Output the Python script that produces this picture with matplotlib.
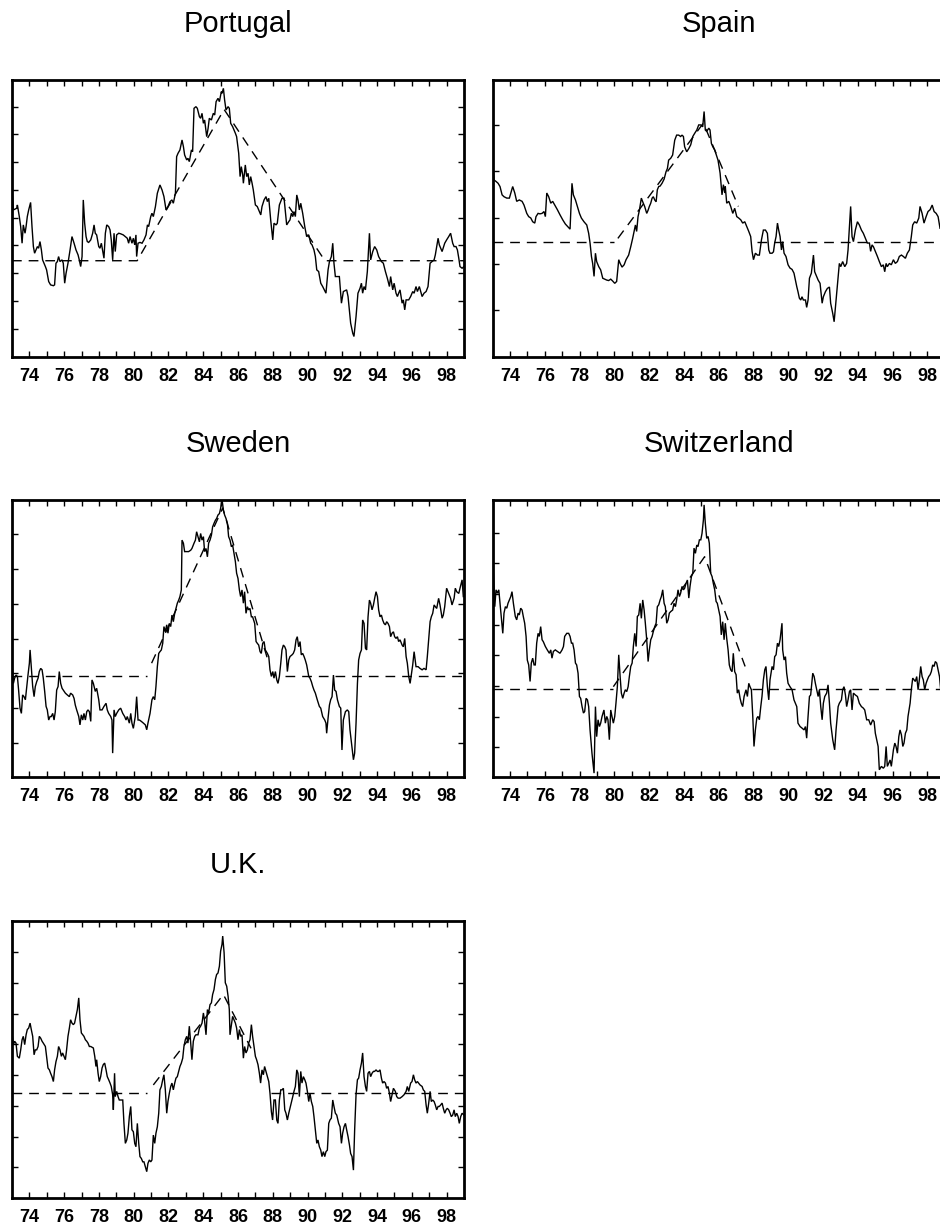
import matplotlib
matplotlib.use("Agg")
import matplotlib.pyplot as plt

plt.rcParams['font.family'] = ['Liberation Sans', 'DejaVu Sans']

# ---------------- data (decimal year, value in tick units) ----------------
portugal = [(1973.00,6.06),(1973.08,5.28),(1973.27,5.34),(1973.31,5.46),(1973.42,5.04),(1973.50,4.68),(1973.58,4.08),(1973.65,4.74),(1973.75,4.44),(1973.81,4.68),(1973.88,5.04),(1973.96,5.28),(1974.07,5.55),(1974.15,4.68),(1974.23,3.96),(1974.30,3.72),(1974.38,3.84),(1974.46,3.96),(1974.53,3.90),(1974.61,4.14),(1974.69,3.84),(1974.76,3.48),(1974.84,3.36),(1974.92,3.24),(1974.99,3.12),(1975.11,2.70),(1975.22,2.58),(1975.38,2.55),(1975.45,2.58),(1975.53,3.36),(1975.61,3.42),(1975.68,3.60),(1975.76,3.42),(1975.88,3.48),(1975.95,3.36),(1976.03,2.64),(1976.11,3.00),(1976.22,3.36),(1976.34,3.84),(1976.45,4.32),(1976.57,4.08),(1976.68,3.84),(1976.80,3.66),(1976.87,3.48),(1976.95,3.24),(1977.03,3.60),(1977.10,5.64),(1977.18,4.80),(1977.26,4.32),(1977.33,4.14),(1977.41,4.11),(1977.53,4.20),(1977.64,4.44),(1977.72,4.74),(1977.79,4.44),(1977.87,4.38),(1977.99,3.96),(1978.06,3.90),(1978.14,4.08),(1978.22,3.78),(1978.29,3.54),(1978.37,4.44),(1978.45,4.74),(1978.56,4.68),(1978.64,4.56),(1978.71,4.20),(1978.79,3.48),(1978.87,4.44),(1978.94,3.78),(1979.02,4.38),(1979.14,4.44),(1979.25,4.42),(1979.40,4.38),(1979.52,4.32),(1979.63,4.26),(1979.71,4.08),(1979.79,4.32),(1979.90,4.08),(1979.98,4.26),(1980.06,4.02),(1980.13,4.38),(1980.17,3.60),(1980.25,4.08),(1980.36,4.11),(1980.48,4.08),(1980.59,4.20),(1980.71,4.38),(1980.79,4.74),(1980.86,4.68),(1980.98,5.04),(1981.05,5.16),(1981.13,5.04),(1981.25,5.40),(1981.36,5.88),(1981.51,6.18),(1981.63,6.00),(1981.74,5.76),(1981.86,5.28),(1981.97,5.40),(1982.09,5.58),(1982.20,5.64),(1982.28,5.52),(1982.40,5.88),(1982.47,7.20),(1982.55,7.32),(1982.66,7.44),(1982.78,7.80),(1982.86,7.56),(1982.93,7.26),(1983.05,7.08),(1983.12,7.14),(1983.20,7.02),(1983.32,7.44),(1983.39,7.38),(1983.47,8.94),(1983.58,9.00),(1983.66,8.94),(1983.78,8.64),(1983.85,8.58),(1983.93,8.76),(1984.01,8.40),(1984.08,8.52),(1984.20,7.92),(1984.28,8.22),(1984.35,8.58),(1984.47,8.52),(1984.58,8.76),(1984.66,8.70),(1984.74,9.18),(1984.85,9.30),(1984.93,9.18),(1985.04,9.54),(1985.08,9.48),(1985.16,9.66),(1985.23,9.24),(1985.31,8.88),(1985.43,9.00),(1985.50,8.94),(1985.58,8.40),(1985.69,8.28),(1985.77,8.16),(1985.85,8.04),(1985.92,7.92),(1986.04,7.32),(1986.12,6.48),(1986.19,6.84),(1986.27,6.54),(1986.31,6.24),(1986.42,6.90),(1986.50,6.48),(1986.58,6.60),(1986.65,6.18),(1986.73,6.48),(1986.81,6.24),(1986.88,6.00),(1987.00,5.46),(1987.11,5.40),(1987.23,5.22),(1987.31,5.10),(1987.38,5.40),(1987.50,5.64),(1987.61,5.76),(1987.69,5.58),(1987.77,5.70),(1987.88,4.92),(1988.00,4.20),(1988.07,4.80),(1988.19,4.74),(1988.26,4.80),(1988.38,5.46),(1988.53,5.70),(1988.65,5.70),(1988.80,4.74),(1988.92,4.86),(1988.99,4.92),(1989.07,5.16),(1989.15,5.04),(1989.22,5.22),(1989.30,5.04),(1989.38,5.82),(1989.45,5.64),(1989.53,5.28),(1989.61,5.52),(1989.72,5.16),(1989.84,4.68),(1989.95,4.32),(1990.07,4.38),(1990.18,4.08),(1990.26,4.02),(1990.37,3.84),(1990.45,3.60),(1990.53,3.12),(1990.64,3.06),(1990.76,2.64),(1990.87,2.52),(1991.06,2.28),(1991.18,3.12),(1991.26,3.42),(1991.37,3.60),(1991.45,4.08),(1991.52,3.36),(1991.60,2.88),(1991.72,2.88),(1991.83,2.88),(1991.95,1.92),(1992.06,2.34),(1992.25,2.40),(1992.33,2.16),(1992.48,1.20),(1992.60,0.84),(1992.67,0.72),(1992.79,1.44),(1992.90,2.28),(1993.02,2.46),(1993.10,2.64),(1993.17,2.28),(1993.25,2.52),(1993.33,2.40),(1993.44,3.06),(1993.56,4.44),(1993.63,3.48),(1993.75,3.78),(1993.86,3.96),(1993.98,3.84),(1994.09,3.60),(1994.25,3.42),(1994.36,3.36),(1994.48,3.06),(1994.59,2.82),(1994.71,2.52),(1994.78,2.88),(1994.90,2.40),(1994.98,2.64),(1995.09,2.28),(1995.17,2.16),(1995.24,2.28),(1995.32,2.40),(1995.44,1.92),(1995.51,2.04),(1995.59,1.68),(1995.67,2.04),(1995.82,2.04),(1995.93,2.16),(1996.05,2.34),(1996.13,2.28),(1996.24,2.52),(1996.32,2.34),(1996.43,2.52),(1996.59,2.16),(1996.70,2.28),(1996.82,2.34),(1996.93,2.52),(1997.05,3.36),(1997.16,3.42),(1997.28,3.48),(1997.35,3.66),(1997.51,4.26),(1997.58,4.02),(1997.74,3.78),(1997.89,4.08),(1998.00,4.20),(1998.12,4.32),(1998.23,4.44),(1998.35,4.08),(1998.43,3.96),(1998.54,3.96),(1998.62,3.84),(1998.70,3.54),(1998.77,3.24),(1998.89,3.18),(1999.00,3.24)]

spain = [(1973.00,4.17),(1973.08,3.81),(1973.19,3.78),(1973.31,3.74),(1973.42,3.67),(1973.54,3.49),(1973.65,3.45),(1973.81,3.42),(1973.96,3.42),(1974.07,3.56),(1974.15,3.67),(1974.27,3.53),(1974.38,3.35),(1974.53,3.38),(1974.69,3.35),(1974.80,3.27),(1974.96,3.09),(1975.07,3.02),(1975.19,2.99),(1975.30,2.91),(1975.42,2.88),(1975.49,3.02),(1975.61,3.09),(1975.72,3.08),(1975.84,3.09),(1975.95,3.13),(1976.03,3.02),(1976.11,3.53),(1976.22,3.45),(1976.34,3.31),(1976.45,3.35),(1976.57,3.27),(1976.72,3.17),(1976.87,3.06),(1977.03,2.95),(1977.18,2.86),(1977.30,2.81),(1977.45,2.75),(1977.56,3.74),(1977.64,3.49),(1977.76,3.38),(1977.87,3.24),(1977.99,3.09),(1978.10,2.99),(1978.25,2.91),(1978.41,2.84),(1978.52,2.66),(1978.60,2.45),(1978.68,2.16),(1978.75,2.01),(1978.83,1.73),(1978.91,2.23),(1978.98,2.05),(1979.10,1.94),(1979.21,1.87),(1979.33,1.69),(1979.44,1.67),(1979.56,1.65),(1979.67,1.64),(1979.79,1.67),(1979.90,1.63),(1980.02,1.58),(1980.13,1.62),(1980.25,2.09),(1980.33,2.01),(1980.44,1.93),(1980.56,1.98),(1980.67,2.09),(1980.82,2.19),(1980.94,2.37),(1981.05,2.55),(1981.13,2.70),(1981.21,2.84),(1981.28,2.70),(1981.36,3.02),(1981.44,3.16),(1981.55,3.42),(1981.63,3.34),(1981.74,3.24),(1981.86,3.09),(1981.94,3.16),(1982.01,3.24),(1982.09,3.31),(1982.17,3.42),(1982.24,3.45),(1982.32,3.38),(1982.40,3.34),(1982.47,3.60),(1982.55,3.67),(1982.63,3.68),(1982.74,3.74),(1982.86,3.83),(1982.97,3.99),(1983.05,4.06),(1983.12,4.24),(1983.24,4.28),(1983.35,4.35),(1983.47,4.67),(1983.58,4.78),(1983.70,4.78),(1983.81,4.75),(1983.89,4.78),(1983.97,4.75),(1984.04,4.53),(1984.16,4.42),(1984.28,4.49),(1984.39,4.57),(1984.51,4.75),(1984.62,4.82),(1984.74,4.89),(1984.85,5.00),(1984.97,5.00),(1985.08,4.96),(1985.16,5.29),(1985.23,4.89),(1985.31,4.86),(1985.43,4.93),(1985.50,4.89),(1985.58,4.60),(1985.66,4.53),(1985.77,4.46),(1985.89,4.32),(1985.96,4.24),(1986.08,3.96),(1986.19,3.49),(1986.27,3.71),(1986.35,3.53),(1986.38,3.67),(1986.46,3.31),(1986.58,3.35),(1986.69,3.24),(1986.81,3.09),(1986.92,3.20),(1987.04,3.02),(1987.15,2.99),(1987.27,2.95),(1987.38,2.88),(1987.50,2.91),(1987.61,2.81),(1987.73,2.70),(1987.84,2.59),(1987.92,2.27),(1988.00,2.09),(1988.11,2.23),(1988.23,2.19),(1988.34,2.19),(1988.46,2.52),(1988.57,2.73),(1988.69,2.73),(1988.80,2.66),(1988.88,2.30),(1988.95,2.23),(1989.07,2.23),(1989.15,2.26),(1989.22,2.45),(1989.30,2.59),(1989.38,2.88),(1989.45,2.73),(1989.53,2.59),(1989.61,2.30),(1989.68,2.48),(1989.76,2.23),(1989.87,2.16),(1989.99,1.98),(1990.10,1.91),(1990.22,1.88),(1990.33,1.80),(1990.41,1.65),(1990.49,1.51),(1990.56,1.40),(1990.64,1.26),(1990.72,1.22),(1990.79,1.29),(1990.87,1.22),(1990.99,1.22),(1991.06,1.06),(1991.14,1.22),(1991.22,1.69),(1991.33,1.80),(1991.45,2.19),(1991.52,1.83),(1991.60,1.76),(1991.72,1.65),(1991.83,1.58),(1991.95,1.15),(1992.02,1.29),(1992.14,1.40),(1992.25,1.47),(1992.37,1.50),(1992.44,1.15),(1992.56,0.93),(1992.64,0.75),(1992.75,1.22),(1992.87,1.73),(1992.94,2.01),(1993.02,1.94),(1993.13,2.05),(1993.25,1.94),(1993.36,2.01),(1993.44,2.30),(1993.52,2.81),(1993.59,3.24),(1993.67,2.59),(1993.75,2.48),(1993.86,2.73),(1993.98,2.91),(1994.09,2.84),(1994.21,2.73),(1994.32,2.66),(1994.44,2.55),(1994.55,2.45),(1994.67,2.45),(1994.74,2.27),(1994.82,2.41),(1994.90,2.37),(1995.01,2.27),(1995.13,2.16),(1995.24,2.05),(1995.36,1.94),(1995.47,1.98),(1995.55,1.83),(1995.63,2.01),(1995.70,1.94),(1995.82,2.01),(1995.93,1.98),(1996.05,2.09),(1996.16,2.01),(1996.28,2.05),(1996.39,2.16),(1996.51,2.19),(1996.62,2.16),(1996.74,2.12),(1996.85,2.23),(1996.97,2.30),(1997.08,2.59),(1997.16,2.84),(1997.27,2.91),(1997.39,2.88),(1997.51,2.99),(1997.58,3.24),(1997.70,3.09),(1997.81,2.88),(1997.93,3.02),(1998.04,3.13),(1998.16,3.17),(1998.28,3.27),(1998.39,3.13),(1998.51,3.09),(1998.62,3.02),(1998.73,2.77)]

sweden = [(1973.00,3.25),(1973.08,2.67),(1973.15,2.82),(1973.23,2.91),(1973.31,2.87),(1973.38,2.48),(1973.46,1.96),(1973.54,1.81),(1973.61,2.34),(1973.69,2.29),(1973.77,2.20),(1973.84,2.53),(1973.92,2.91),(1974.00,3.25),(1974.04,3.63),(1974.11,3.15),(1974.19,2.58),(1974.27,2.29),(1974.34,2.58),(1974.42,2.72),(1974.50,2.82),(1974.57,3.01),(1974.65,3.10),(1974.73,3.06),(1974.80,2.82),(1974.88,2.44),(1974.96,2.01),(1975.03,1.91),(1975.11,1.62),(1975.19,1.72),(1975.26,1.72),(1975.34,1.81),(1975.42,1.62),(1975.49,1.86),(1975.57,2.48),(1975.65,2.58),(1975.72,3.01),(1975.80,2.67),(1975.88,2.53),(1975.95,2.48),(1976.07,2.39),(1976.18,2.34),(1976.30,2.29),(1976.37,2.39),(1976.49,2.34),(1976.57,2.24),(1976.64,2.05),(1976.72,1.91),(1976.84,1.72),(1976.91,1.48),(1976.99,1.77),(1977.07,1.62),(1977.14,1.81),(1977.22,1.62),(1977.30,1.86),(1977.37,1.91),(1977.45,1.86),(1977.53,1.58),(1977.60,2.77),(1977.68,2.67),(1977.79,2.44),(1977.87,2.53),(1977.99,2.20),(1978.06,1.91),(1978.18,1.91),(1978.29,2.01),(1978.41,2.10),(1978.48,1.91),(1978.56,1.81),(1978.68,1.72),(1978.75,1.62),(1978.79,0.67),(1978.87,1.91),(1978.94,1.72),(1979.02,1.81),(1979.14,1.91),(1979.25,1.96),(1979.37,1.81),(1979.48,1.72),(1979.56,1.62),(1979.63,1.72),(1979.75,1.53),(1979.83,1.81),(1979.90,1.53),(1979.98,1.38),(1980.09,1.72),(1980.17,2.29),(1980.25,1.62),(1980.33,1.62),(1980.44,1.58),(1980.56,1.53),(1980.67,1.48),(1980.75,1.34),(1980.82,1.53),(1980.94,1.81),(1981.05,2.20),(1981.13,2.29),(1981.21,2.20),(1981.28,2.58),(1981.36,3.15),(1981.44,3.53),(1981.51,3.58),(1981.59,3.63),(1981.67,3.82),(1981.74,4.30),(1981.82,4.15),(1981.90,4.35),(1981.97,4.11),(1982.05,4.39),(1982.13,4.30),(1982.20,4.63),(1982.28,4.44),(1982.36,4.68),(1982.43,4.82),(1982.51,4.97),(1982.59,5.06),(1982.66,5.16),(1982.74,5.35),(1982.78,6.78),(1982.86,6.69),(1982.93,6.45),(1983.05,6.45),(1983.16,6.45),(1983.28,6.49),(1983.35,6.54),(1983.47,6.69),(1983.55,6.78),(1983.62,7.02),(1983.70,6.88),(1983.78,6.73),(1983.85,6.97),(1983.93,6.78),(1984.01,6.88),(1984.08,6.45),(1984.16,6.54),(1984.24,6.30),(1984.31,6.69),(1984.39,6.78),(1984.47,6.92),(1984.54,7.16),(1984.62,7.26),(1984.70,7.35),(1984.77,7.40),(1984.85,7.50),(1984.93,7.54),(1985.00,7.69),(1985.08,7.95),(1985.16,7.64),(1985.23,7.50),(1985.31,7.40),(1985.39,7.26),(1985.46,6.88),(1985.54,6.78),(1985.62,6.59),(1985.69,6.64),(1985.77,6.40),(1985.85,6.16),(1985.92,5.83),(1986.00,5.68),(1986.08,5.35),(1986.15,5.16),(1986.23,5.35),(1986.31,4.97),(1986.38,5.30),(1986.46,4.68),(1986.54,4.87),(1986.61,4.78),(1986.69,4.82),(1986.77,4.58),(1986.84,4.58),(1986.96,4.39),(1987.04,3.87),(1987.11,3.82),(1987.19,3.77),(1987.27,3.58),(1987.34,3.53),(1987.42,3.82),(1987.50,3.87),(1987.57,3.63),(1987.69,3.53),(1987.77,3.44),(1987.84,3.06),(1987.92,2.87),(1988.00,3.01),(1988.07,2.82),(1988.15,3.01),(1988.23,2.77),(1988.30,2.67),(1988.38,2.87),(1988.46,3.25),(1988.53,3.63),(1988.61,3.77),(1988.69,3.72),(1988.76,3.63),(1988.84,3.01),(1988.92,3.34),(1988.99,3.44),(1989.11,3.49),(1989.18,3.53),(1989.26,3.63),(1989.34,3.92),(1989.41,4.01),(1989.49,3.72),(1989.57,3.87),(1989.64,3.49),(1989.72,3.53),(1989.80,3.44),(1989.87,3.34),(1989.95,3.20),(1990.07,2.87),(1990.14,2.82),(1990.22,2.72),(1990.30,2.58),(1990.37,2.48),(1990.45,2.39),(1990.56,2.20),(1990.68,2.01),(1990.76,1.96),(1990.87,1.72),(1990.99,1.62),(1991.06,1.53),(1991.10,1.24),(1991.18,1.67),(1991.26,2.05),(1991.33,2.20),(1991.41,2.29),(1991.49,2.91),(1991.56,2.48),(1991.64,2.44),(1991.72,2.20),(1991.83,2.01),(1991.91,1.96),(1991.98,0.76),(1992.06,1.62),(1992.18,1.86),(1992.29,1.91),(1992.37,1.86),(1992.44,1.34),(1992.56,0.81),(1992.64,0.48),(1992.71,0.67),(1992.79,1.53),(1992.87,2.67),(1992.94,3.34),(1993.02,3.53),(1993.10,3.63),(1993.17,4.49),(1993.25,4.39),(1993.33,3.68),(1993.40,3.63),(1993.48,4.58),(1993.56,5.06),(1993.63,4.97),(1993.71,4.78),(1993.79,4.92),(1993.86,5.11),(1993.94,5.30),(1994.02,5.16),(1994.09,4.78),(1994.17,4.58),(1994.25,4.63),(1994.32,4.49),(1994.40,4.39),(1994.48,4.35),(1994.55,4.44),(1994.63,4.39),(1994.71,4.30),(1994.78,4.01),(1994.86,4.11),(1994.94,4.15),(1995.01,4.01),(1995.09,3.96),(1995.17,4.01),(1995.24,3.87),(1995.32,3.92),(1995.44,3.77),(1995.51,3.72),(1995.59,3.96),(1995.67,3.44),(1995.74,3.25),(1995.82,2.87),(1995.90,2.67),(1995.97,2.91),(1996.05,3.20),(1996.13,3.58),(1996.24,3.15),(1996.36,3.15),(1996.47,3.10),(1996.59,3.06),(1996.70,3.10),(1996.82,3.06),(1996.89,3.44),(1996.97,3.96),(1997.05,4.44),(1997.12,4.58),(1997.20,4.68),(1997.28,4.92),(1997.35,4.87),(1997.43,4.82),(1997.54,5.11),(1997.62,4.92),(1997.74,4.54),(1997.81,4.63),(1997.89,4.87),(1998.00,5.40),(1998.12,5.25),(1998.23,5.11),(1998.31,4.92),(1998.43,5.11),(1998.50,5.40),(1998.58,5.30),(1998.70,5.25),(1998.77,5.40),(1998.89,5.64),(1998.96,5.16)]

switzerland = [(1973.00,7.17),(1973.12,5.54),(1973.19,6.09),(1973.27,5.98),(1973.35,6.09),(1973.42,5.65),(1973.50,5.11),(1973.58,4.67),(1973.65,5.33),(1973.73,5.54),(1973.81,5.49),(1973.88,5.65),(1973.96,5.76),(1974.04,5.87),(1974.11,6.03),(1974.19,5.65),(1974.30,5.22),(1974.38,5.11),(1974.46,5.33),(1974.53,5.27),(1974.61,5.49),(1974.69,5.43),(1974.76,5.22),(1974.84,5.00),(1974.92,4.57),(1974.99,3.80),(1975.07,3.64),(1975.15,3.10),(1975.22,3.70),(1975.30,3.86),(1975.38,3.64),(1975.45,3.64),(1975.53,4.35),(1975.61,4.67),(1975.68,4.57),(1975.76,4.89),(1975.84,4.46),(1975.91,4.40),(1976.03,4.24),(1976.14,4.13),(1976.26,4.02),(1976.34,4.13),(1976.41,3.86),(1976.49,4.08),(1976.60,4.13),(1976.72,4.08),(1976.87,4.02),(1976.99,4.13),(1977.07,4.24),(1977.14,4.57),(1977.26,4.67),(1977.37,4.67),(1977.45,4.57),(1977.53,4.35),(1977.60,4.35),(1977.68,4.13),(1977.76,3.70),(1977.83,3.64),(1977.91,3.37),(1977.99,2.61),(1978.06,2.55),(1978.14,2.28),(1978.22,2.07),(1978.29,2.12),(1978.37,2.55),(1978.45,2.50),(1978.52,2.28),(1978.60,1.52),(1978.71,0.76),(1978.83,0.11),(1978.91,2.28),(1978.98,1.30),(1979.06,1.85),(1979.14,1.63),(1979.21,1.74),(1979.29,1.96),(1979.40,2.17),(1979.48,1.74),(1979.56,1.96),(1979.63,1.85),(1979.71,1.20),(1979.79,2.17),(1979.86,1.96),(1979.94,1.74),(1980.02,1.96),(1980.09,2.39),(1980.17,2.93),(1980.25,3.97),(1980.33,3.26),(1980.40,2.72),(1980.48,2.55),(1980.56,2.72),(1980.63,2.83),(1980.71,2.77),(1980.79,2.93),(1980.86,3.26),(1980.94,3.59),(1981.02,3.70),(1981.09,4.24),(1981.17,4.67),(1981.25,4.24),(1981.32,5.22),(1981.40,5.27),(1981.48,5.65),(1981.55,5.16),(1981.63,5.76),(1981.71,5.43),(1981.78,5.00),(1981.86,4.46),(1981.94,3.75),(1982.01,4.13),(1982.09,4.46),(1982.17,4.57),(1982.24,4.73),(1982.32,4.89),(1982.40,5.00),(1982.47,5.54),(1982.55,5.60),(1982.63,5.76),(1982.70,5.87),(1982.78,6.09),(1982.86,5.65),(1982.93,5.54),(1983.01,5.00),(1983.09,5.11),(1983.16,5.33),(1983.24,5.38),(1983.35,5.43),(1983.43,5.65),(1983.51,5.54),(1983.58,5.76),(1983.66,6.09),(1983.74,5.87),(1983.81,5.98),(1983.89,6.20),(1983.97,6.09),(1984.04,6.14),(1984.12,6.30),(1984.20,6.41),(1984.28,5.82),(1984.35,6.20),(1984.43,6.52),(1984.51,6.63),(1984.58,7.45),(1984.66,7.28),(1984.74,7.55),(1984.81,7.50),(1984.89,7.72),(1984.97,7.72),(1985.04,7.93),(1985.12,8.37),(1985.16,8.86),(1985.23,8.26),(1985.31,7.77),(1985.39,7.83),(1985.46,7.61),(1985.54,6.63),(1985.62,6.52),(1985.69,6.30),(1985.77,6.09),(1985.85,5.71),(1985.92,5.65),(1986.00,5.43),(1986.08,5.22),(1986.15,4.62),(1986.23,5.05),(1986.31,4.46),(1986.38,5.00),(1986.46,4.51),(1986.54,4.13),(1986.61,3.64),(1986.69,3.48),(1986.77,3.42),(1986.84,4.02),(1986.92,3.42),(1987.00,3.32),(1987.07,2.72),(1987.15,2.83),(1987.23,2.55),(1987.30,2.39),(1987.38,2.28),(1987.46,2.61),(1987.57,2.83),(1987.65,2.61),(1987.73,3.04),(1987.80,2.93),(1987.88,2.83),(1987.96,1.96),(1988.03,0.98),(1988.11,1.52),(1988.19,1.90),(1988.26,1.96),(1988.34,1.85),(1988.42,2.28),(1988.49,2.61),(1988.57,3.15),(1988.65,3.48),(1988.72,3.59),(1988.80,2.93),(1988.88,2.50),(1988.95,3.15),(1989.07,3.59),(1989.15,3.48),(1989.22,3.91),(1989.30,3.97),(1989.38,4.35),(1989.45,4.24),(1989.53,4.46),(1989.64,5.00),(1989.68,4.13),(1989.76,3.80),(1989.84,3.91),(1989.91,3.37),(1989.99,3.04),(1990.10,2.93),(1990.22,2.83),(1990.33,2.50),(1990.41,2.39),(1990.49,2.28),(1990.56,1.74),(1990.68,1.63),(1990.79,1.58),(1990.91,1.52),(1990.99,1.63),(1991.06,1.25),(1991.14,1.96),(1991.22,2.61),(1991.29,2.66),(1991.41,3.37),(1991.49,3.26),(1991.56,3.04),(1991.64,2.83),(1991.72,2.61),(1991.79,2.83),(1991.87,2.28),(1991.95,1.85),(1992.02,2.39),(1992.10,2.61),(1992.21,2.72),(1992.29,2.99),(1992.37,2.39),(1992.44,1.74),(1992.56,1.20),(1992.67,0.87),(1992.75,1.52),(1992.87,2.28),(1992.94,2.39),(1993.06,2.50),(1993.13,2.83),(1993.21,2.93),(1993.29,2.66),(1993.36,2.28),(1993.44,2.50),(1993.52,2.77),(1993.59,2.83),(1993.67,2.17),(1993.75,2.72),(1993.86,2.66),(1993.98,2.61),(1994.09,2.39),(1994.21,2.28),(1994.32,2.23),(1994.40,2.17),(1994.51,1.85),(1994.63,1.85),(1994.74,1.68),(1994.86,1.85),(1994.94,1.79),(1995.01,1.41),(1995.09,1.20),(1995.17,0.98),(1995.24,0.22),(1995.36,0.33),(1995.47,0.27),(1995.55,0.33),(1995.63,0.98),(1995.70,0.33),(1995.78,0.43),(1995.86,0.54),(1995.93,0.33),(1996.05,0.87),(1996.13,1.09),(1996.20,0.98),(1996.28,0.76),(1996.36,1.30),(1996.43,1.52),(1996.51,1.36),(1996.59,0.98),(1996.66,1.09),(1996.74,1.41),(1996.82,1.52),(1996.89,1.96),(1997.01,2.39),(1997.08,2.83),(1997.16,3.21),(1997.24,3.15),(1997.31,3.10),(1997.39,3.26),(1997.47,2.83),(1997.54,3.15),(1997.62,3.59),(1997.70,3.26),(1997.77,3.15),(1997.85,2.83),(1997.93,3.04),(1998.00,3.15),(1998.08,3.26),(1998.16,3.32),(1998.23,3.42),(1998.31,3.64),(1998.39,3.59),(1998.46,3.75),(1998.54,3.70),(1998.62,3.48),(1998.70,3.26),(1998.77,2.83)]

uk = [(1973.00,5.35),(1973.08,4.97),(1973.15,5.08),(1973.23,5.02),(1973.31,4.59),(1973.42,4.53),(1973.50,4.80),(1973.58,5.13),(1973.65,5.24),(1973.73,4.97),(1973.81,5.29),(1973.88,5.46),(1973.96,5.51),(1974.04,5.67),(1974.11,5.46),(1974.19,5.24),(1974.27,4.64),(1974.34,4.80),(1974.42,4.80),(1974.50,4.91),(1974.57,5.24),(1974.65,5.18),(1974.73,5.08),(1974.80,5.02),(1974.92,4.91),(1974.99,4.59),(1975.07,4.21),(1975.15,4.15),(1975.22,4.04),(1975.30,3.93),(1975.38,3.77),(1975.45,4.15),(1975.53,4.42),(1975.61,4.59),(1975.68,4.91),(1975.76,4.80),(1975.84,4.59),(1975.91,4.70),(1975.99,4.59),(1976.07,4.48),(1976.14,4.80),(1976.22,5.24),(1976.30,5.51),(1976.37,5.78),(1976.45,5.67),(1976.53,5.62),(1976.60,5.67),(1976.68,5.89),(1976.76,6.11),(1976.84,6.49),(1976.91,5.78),(1976.99,5.35),(1977.07,5.29),(1977.14,5.24),(1977.22,5.13),(1977.30,5.08),(1977.37,5.02),(1977.45,4.91),(1977.53,4.91),(1977.68,4.86),(1977.76,4.59),(1977.83,4.26),(1977.87,4.48),(1977.95,4.04),(1978.02,3.77),(1978.10,3.93),(1978.18,4.21),(1978.25,4.32),(1978.33,4.37),(1978.41,4.15),(1978.48,3.93),(1978.56,3.83),(1978.64,3.72),(1978.71,3.61),(1978.79,3.34),(1978.83,2.85),(1978.90,4.04),(1978.94,3.28),(1979.02,3.45),(1979.10,3.28),(1979.17,3.17),(1979.25,3.17),(1979.37,3.17),(1979.44,2.41),(1979.52,1.76),(1979.60,1.87),(1979.67,2.09),(1979.75,2.63),(1979.83,2.96),(1979.90,2.20),(1979.98,2.14),(1980.06,1.76),(1980.13,1.65),(1980.21,2.41),(1980.29,1.76),(1980.36,1.33),(1980.44,1.27),(1980.52,1.16),(1980.59,1.16),(1980.67,1.00),(1980.75,0.84),(1980.82,1.11),(1980.90,1.22),(1980.98,1.16),(1981.05,1.22),(1981.13,2.03),(1981.21,1.76),(1981.28,2.09),(1981.36,2.30),(1981.44,2.74),(1981.51,3.50),(1981.59,3.61),(1981.67,3.83),(1981.74,3.99),(1981.82,3.50),(1981.90,2.74),(1981.97,3.12),(1982.05,3.39),(1982.13,3.61),(1982.20,3.72),(1982.28,3.50),(1982.36,3.72),(1982.43,3.88),(1982.51,3.93),(1982.59,4.10),(1982.66,4.26),(1982.74,4.37),(1982.82,4.53),(1982.89,4.91),(1982.97,5.13),(1983.05,5.24),(1983.12,5.02),(1983.20,5.57),(1983.28,5.02),(1983.35,4.48),(1983.43,5.08),(1983.51,5.24),(1983.58,5.29),(1983.70,5.29),(1983.78,5.51),(1983.85,5.57),(1983.93,5.67),(1984.01,6.00),(1984.08,5.73),(1984.16,5.29),(1984.24,6.11),(1984.31,6.00),(1984.39,6.27),(1984.47,6.33),(1984.54,6.60),(1984.62,6.76),(1984.70,7.09),(1984.77,7.25),(1984.85,7.30),(1984.93,7.52),(1985.00,8.01),(1985.08,8.23),(1985.12,8.50),(1985.20,7.96),(1985.27,6.98),(1985.35,6.87),(1985.43,6.54),(1985.50,6.11),(1985.54,5.29),(1985.62,5.62),(1985.69,5.89),(1985.77,5.78),(1985.85,5.67),(1985.92,5.51),(1986.00,5.13),(1986.08,5.46),(1986.15,5.24),(1986.23,5.29),(1986.31,4.53),(1986.38,4.91),(1986.46,4.70),(1986.54,4.80),(1986.61,5.02),(1986.69,5.13),(1986.77,5.62),(1986.84,5.24),(1986.92,4.91),(1987.00,4.59),(1987.07,4.48),(1987.15,4.32),(1987.23,4.04),(1987.30,3.72),(1987.38,4.15),(1987.46,3.99),(1987.53,4.26),(1987.61,4.10),(1987.69,3.93),(1987.77,3.77),(1987.84,3.39),(1987.92,2.79),(1987.99,2.52),(1988.07,3.17),(1988.15,3.17),(1988.23,2.52),(1988.30,2.41),(1988.38,3.17),(1988.46,3.50),(1988.53,3.50),(1988.61,3.55),(1988.69,2.85),(1988.76,2.74),(1988.84,2.52),(1988.92,2.74),(1988.99,2.90),(1989.07,3.07),(1989.15,3.28),(1989.22,3.45),(1989.30,3.61),(1989.38,4.15),(1989.45,4.04),(1989.53,3.28),(1989.61,4.10),(1989.68,3.72),(1989.76,3.93),(1989.84,3.83),(1989.91,3.72),(1989.99,3.45),(1990.07,3.12),(1990.14,3.39),(1990.22,3.12),(1990.30,2.96),(1990.37,2.63),(1990.45,2.20),(1990.53,1.76),(1990.60,1.87),(1990.68,1.65),(1990.76,1.54),(1990.83,1.33),(1990.91,1.49),(1990.99,1.33),(1991.06,1.49),(1991.14,1.54),(1991.22,2.41),(1991.29,2.52),(1991.37,2.58),(1991.45,3.17),(1991.52,2.96),(1991.60,2.74),(1991.68,2.68),(1991.79,2.41),(1991.87,2.30),(1991.95,1.76),(1992.02,2.09),(1992.10,2.30),(1992.18,2.41),(1992.25,2.20),(1992.33,1.98),(1992.41,1.71),(1992.48,1.43),(1992.56,1.33),(1992.64,0.89),(1992.71,2.20),(1992.79,3.34),(1992.87,3.83),(1992.94,3.88),(1993.02,4.15),(1993.10,4.37),(1993.17,4.70),(1993.25,3.93),(1993.33,3.61),(1993.40,3.45),(1993.48,4.04),(1993.56,4.10),(1993.63,3.93),(1993.71,4.04),(1993.79,4.10),(1993.86,4.10),(1993.94,4.15),(1994.02,4.10),(1994.09,4.10),(1994.17,4.15),(1994.25,3.88),(1994.32,3.72),(1994.40,3.77),(1994.48,3.72),(1994.55,3.55),(1994.63,3.61),(1994.71,3.39),(1994.78,3.12),(1994.86,3.34),(1994.94,3.55),(1995.05,3.45),(1995.13,3.28),(1995.21,3.23),(1995.32,3.23),(1995.44,3.28),(1995.55,3.34),(1995.67,3.45),(1995.74,3.61),(1995.82,3.45),(1995.93,3.72),(1996.01,3.77),(1996.09,3.99),(1996.16,3.83),(1996.24,3.72),(1996.32,3.77),(1996.39,3.72),(1996.47,3.66),(1996.59,3.61),(1996.66,3.50),(1996.74,3.45),(1996.82,3.01),(1996.89,2.74),(1996.97,3.07),(1997.05,3.45),(1997.12,3.12),(1997.20,3.17),(1997.28,3.12),(1997.35,3.01),(1997.43,2.85),(1997.51,2.96),(1997.58,2.96),(1997.66,3.01),(1997.74,3.07),(1997.81,2.90),(1997.89,2.74),(1997.97,2.85),(1998.04,2.90),(1998.12,2.85),(1998.20,2.74),(1998.27,2.63),(1998.35,2.68),(1998.43,2.85),(1998.50,2.63),(1998.58,2.74),(1998.66,2.63),(1998.73,2.41),(1998.81,2.63),(1998.89,2.74),(1999.00,2.68)]

# dashed reference lines: list of polylines (year, value)
portugal_fit = [[(1973.0,3.45),(1980.2,3.45),(1985.2,8.9),(1991.0,3.45),(1999.0,3.45)]]
spain_fit = [[(1973.0,2.47),(1980.0,2.47)],[(1980.2,2.55),(1985.12,5.04),(1987.13,3.24)],[(1988.2,2.47),(1999.0,2.47)]]
sweden_fit = [[(1973.0,2.88),(1980.75,2.88)],[(1981.03,3.25),(1985.12,7.7),(1987.67,3.42)],[(1988.7,2.88),(1999.0,2.88)]]
switzerland_fit = [[(1973.0,2.85),(1979.9,2.85)],[(1979.94,2.93),(1985.19,7.17),(1987.52,3.59)],[(1987.9,2.85),(1999.0,2.85)]]
uk_fit = [[(1973.0,3.41),(1980.75,3.41)],[(1981.13,3.66),(1985.16,6.6),(1986.75,4.85)],[(1987.9,3.41),(1999.0,3.41)]]

titles = ["Portugal", "Spain", "Sweden", "Switzerland", "U.K."]
year_ticks = list(range(1974, 1999))
year_labels = [("%02d" % (y % 100)) if y % 2 == 0 else "" for y in year_ticks]

# y-limits and (unlabelled) y-tick positions per panel
ylims = [(0.0, 9.96), (0.0, 5.97), (0.0, 7.93), (0.0, 9.02), (0.0, 8.99)]
yticks = [[1, 2, 3, 4, 5, 6, 7, 8, 9],
          [1, 2, 3, 4, 5],
          [0.955 + k for k in range(7)],
          [0.957 + k for k in range(8)],
          [0.978 + k for k in range(8)]]

series = [portugal, spain, sweden, switzerland, uk]
fits = [portugal_fit, spain_fit, sweden_fit, switzerland_fit, uk_fit]

# ---------------- layout (pixels) ----------------
W, H = 940, 1231
fig = plt.figure(figsize=(W / 100, H / 100), dpi=100)
col_left = [12.0, 492.7]
ax_w = 452.0
row_top = [80.0, 500.0, 921.0]
ax_h = 276.5
title_base = [32.0, 452.0, 873.0]

for i, name in enumerate(titles):
    r, c = divmod(i, 2)
    x0 = col_left[c]
    ax = fig.add_axes([x0 / W, 1 - (row_top[r] + ax_h) / H, ax_w / W, ax_h / H])
    t, v = zip(*series[i])
    ax.plot(t, v, color='black', lw=1.0, solid_joinstyle='miter')
    for seg in fits[i]:
        st, sv = zip(*seg)
        ax.plot(st, sv, color='black', lw=1.0, dashes=(7, 5))
    ax.set_xlim(1973, 1999)
    ax.set_ylim(*ylims[i])
    ax.set_xticks(year_ticks)
    ax.set_xticklabels(year_labels, fontsize=13, fontweight='bold')
    ax.set_yticks(yticks[i])
    ax.tick_params(axis='both', which='both', direction='in', top=True,
                   right=(c == 0), length=4, width=1.0, pad=8, labelleft=False)
    for sp in ax.spines.values():
        sp.set_linewidth(2.0)
    fig.text((x0 + ax_w / 2) / W, 1 - title_base[r] / H, name, ha='center',
             va='baseline', fontsize=21)

fig.savefig("out.png", dpi=100)
